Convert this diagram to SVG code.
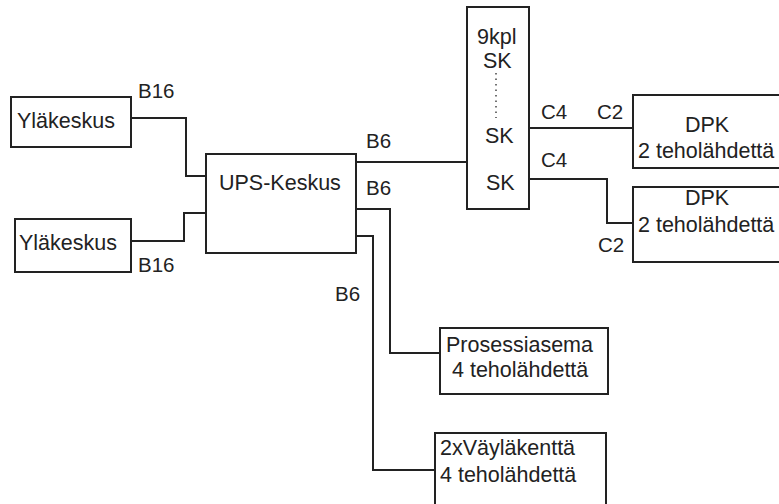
<svg xmlns="http://www.w3.org/2000/svg" width="779" height="504" viewBox="0 0 779 504">
<style>
.box{fill:#fff;stroke:#222;stroke-width:2}
.ln{fill:none;stroke:#222;stroke-width:2}
text{font-family:"Liberation Sans",Arial,sans-serif;font-size:21.5px;fill:#222}
.lb{font-size:20.5px}
</style>
<rect width="779" height="504" fill="#fff"/>
<g id="connectors">
<polyline class="ln" points="131,118 186,118 186,176 206,176"/>
<polyline class="ln" points="131,241 184,241 184,213 206,213"/>
<polyline class="ln" points="356,162 467,162"/>
<polyline class="ln" points="356,209 390,209 390,353 440,353"/>
<polyline class="ln" points="356,236 373,236 373,470 435,470"/>
<polyline class="ln" points="529,128 633,128"/>
<polyline class="ln" points="529,179 607,179 607,223 633,223"/>
<text class="lb" x="138" y="98">B16</text>
<text class="lb" x="138" y="272">B16</text>
<text class="lb" x="366" y="148">B6</text>
<text class="lb" x="366" y="195">B6</text>
<text class="lb" x="335" y="301">B6</text>
<text class="lb" x="541" y="119">C4</text>
<text class="lb" x="597" y="119">C2</text>
<text class="lb" x="541" y="167">C4</text>
<text class="lb" x="598" y="252">C2</text>
</g>
<g id="ylakeskus1">
<rect class="box" x="11" y="97" width="120" height="50"/>
<text x="17" y="128">Yläkeskus</text>
</g>
<g id="ylakeskus2">
<rect class="box" x="15" y="219" width="116" height="53"/>
<text x="19" y="250">Yläkeskus</text>
</g>
<g id="ups">
<rect class="box" x="206" y="154" width="150" height="99"/>
<text x="219" y="190">UPS-Keskus</text>
</g>
<g id="sk">
<rect class="box" x="467" y="7" width="62" height="202"/>
<text x="477" y="44">9kpl</text>
<text x="483" y="68">SK</text>
<line x1="496" y1="73" x2="496" y2="118" stroke="#444" stroke-width="1.5" stroke-dasharray="1.5,4"/>
<text x="485" y="143">SK</text>
<text x="486" y="190">SK</text>
</g>
<g id="dpk1">
<rect class="box" x="633" y="95" width="160" height="73"/>
<text x="685" y="132">DPK</text>
<text x="638" y="158">2 teholähdettä</text>
</g>
<g id="dpk2">
<rect class="box" x="633" y="187" width="160" height="75"/>
<text x="685" y="205">DPK</text>
<text x="638" y="232">2 teholähdettä</text>
</g>
<g id="prosessiasema">
<rect class="box" x="440" y="328" width="168" height="66"/>
<text x="446" y="352">Prosessiasema</text>
<text x="452" y="377">4 teholähdettä</text>
</g>
<g id="vaylakentta">
<rect class="box" x="435" y="433" width="171" height="80"/>
<text x="440" y="455">2xVäyläkenttä</text>
<text x="440" y="482">4 teholähdettä</text>
</g>
</svg>
